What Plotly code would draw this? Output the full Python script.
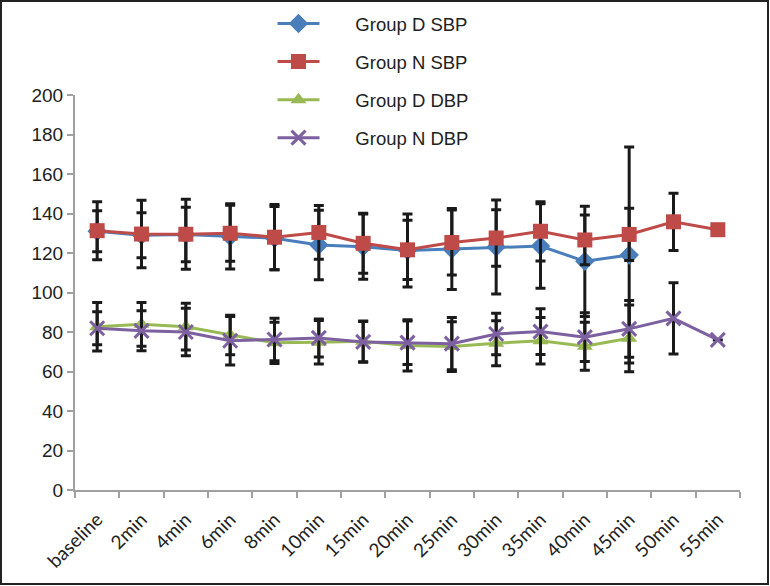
import plotly.graph_objects as go

categories = ["baseline", "2min", "4min", "6min", "8min", "10min", "15min", "20min",
              "25min", "30min", "35min", "40min", "45min", "50min", "55min"]

d_sbp = [131.0, 129.0, 129.4, 128.4, 127.5, 124.0, 123.2, 121.3, 122.0, 123.0, 123.5, 115.8, 119.0]
d_sbp_sd = [10.4, 11.4, 13.8, 16.5, 16.0, 17.6, 16.5, 18.5, 20.5, 23.8, 21.4, 27.9, 54.7]

n_sbp = [131.3, 129.6, 129.5, 130.0, 128.0, 130.4, 124.9, 121.6, 125.3, 127.6, 131.0, 126.6, 129.4, 135.8, 131.8]
n_sbp_sd = [14.7, 17.1, 17.7, 14.2, 16.5, 13.6, 15.2, 15.0, 16.5, 14.3, 15.0, 12.6, 13.2, 14.5, 0]

d_dbp = [82.7, 83.9, 82.7, 78.5, 74.5, 74.8, 75.3, 73.2, 72.6, 74.3, 75.6, 72.8, 76.8]
d_dbp_sd = [12.3, 11.1, 11.8, 10.0, 10.5, 11.0, 10.3, 13.0, 12.6, 11.4, 11.8, 12.2, 16.9]

n_dbp = [81.9, 80.6, 80.0, 75.6, 76.2, 77.0, 75.0, 74.6, 74.1, 79.0, 80.2, 77.4, 81.6, 86.9, 76.0]
n_dbp_sd = [8.4, 10.1, 12.0, 12.3, 10.7, 9.6, 10.3, 11.0, 13.2, 10.5, 11.6, 12.3, 14.4, 18.0, 0]

series = [
    ("Group D SBP", d_sbp, d_sbp_sd, "#4A7EBB", "diamond", 15),
    ("Group N SBP", n_sbp, n_sbp_sd, "#BE4B48", "square", 15),
    ("Group D DBP", d_dbp, d_dbp_sd, "#98B954", "triangle-up", 14),
    ("Group N DBP", n_dbp, n_dbp_sd, "#7D60A0", "x-thin", 14),
]

L, R, T, B = 75, 30, 95, 96
PW, PH = 770 - L - R, 586 - T - B

fig = go.Figure()
for name, vals, sds, color, sym, size in series:
    marker = dict(symbol=sym, size=size, color=color)
    if sym == "x-thin":
        marker["line"] = dict(color=color, width=3)
    fig.add_trace(go.Scatter(
        x=categories[:len(vals)], y=vals, name="\u00a0" * 6 + name,
        mode="lines+markers", legendgroup=name,
        line=dict(color=color, width=3),
        marker=marker,
        error_y=dict(type="data", array=sds, visible=True, color="#1a1a1a",
                     thickness=3, width=5),
    ))

fig.update_layout(
    width=770, height=586,
    margin=dict(l=L, r=R, t=T, b=B, autoexpand=False),
    plot_bgcolor="white", paper_bgcolor="white",
    font=dict(family="Liberation Sans, Arial, sans-serif", size=19, color="#222"),
    showlegend=True,
    legend=dict(x=0.297, y=(PH + T - 5) / PH, xanchor="left", yanchor="top",
                orientation="v", tracegroupgap=11, itemwidth=42,
                font=dict(size=18.5, color="#222"), bgcolor="rgba(0,0,0,0)"),
    xaxis=dict(
        type="category", categoryorder="array", categoryarray=categories,
        range=[-0.5, 14.5], showgrid=False, showline=True, linecolor="#A0A0A0",
        linewidth=2, ticks="outside", tickson="boundaries", ticklen=6,
        tickcolor="#A0A0A0", tickwidth=2, tickangle=-45, automargin=False,
        ticklabelstandoff=9,
        tickfont=dict(family="Lato, Liberation Sans, sans-serif", size=19, color="#222"),
    ),
    yaxis=dict(
        range=[0, 200], dtick=20, showgrid=False, showline=True, linecolor="#A0A0A0",
        linewidth=2, ticks="outside", ticklen=6, tickcolor="#A0A0A0", tickwidth=2,
        zeroline=False, automargin=False, tickfont=dict(size=19, color="#222"),
    ),
    shapes=[dict(type="rect", xref="paper", yref="paper",
                 x0=-L / PW + 1 / PW, x1=(770 - L) / PW - 2 / PW,
                 y0=-B / PH + 2 / PH, y1=(586 - B) / PH - 1 / PH,
                 line=dict(color="#222", width=2), fillcolor="rgba(0,0,0,0)")],
)

fig.write_html("out.html", config={"displayModeBar": False},
               post_script="document.body.style.margin='0';document.body.style.overflow='hidden';")
